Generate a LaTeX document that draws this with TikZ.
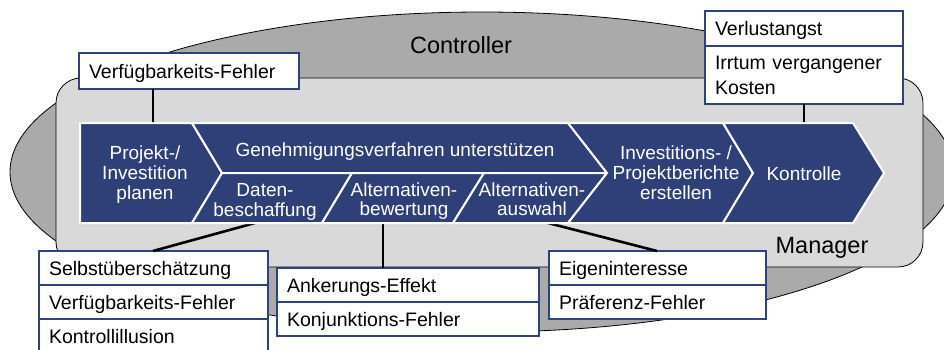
\documentclass[tikz,border=0pt]{standalone}
\usepackage{fontspec}
\setmainfont{Liberation Sans}
\usetikzlibrary{calc}
\definecolor{bandblue}{RGB}{46,64,119}
\definecolor{boxblue}{RGB}{47,66,122}
\definecolor{outergray}{RGB}{170,170,170}
\definecolor{innergray}{RGB}{217,217,217}
\begin{document}
\begin{tikzpicture}[x=1pt,y=-1pt,
  chev/.style={fill=bandblue, draw=white, line width=2pt, line join=miter},
  wlabel/.style={text=white, align=center, font=\fontsize{19}{19.7}\selectfont, inner sep=0pt, text depth=0pt},
  errbox/.style={draw=boxblue, line width=2pt, fill=white, anchor=north west, inner xsep=10pt, inner ysep=0pt, outer sep=0pt, align=left, font=\fontsize{19.5}{25}\selectfont, text height=14pt},
  errline/.style={errbox, text depth=0pt},
  conn/.style={line width=2.6pt, black},
  titletext/.style={font=\fontsize{23.5}{26}\selectfont, inner sep=0pt, anchor=base}
]
\clip (0,0) rectangle (944,349);
\fill[white] (0,0) rectangle (944,349);
% background shapes
\draw[fill=outergray, line width=0.8pt] (482,172) ellipse [x radius=472pt, y radius=160pt];
\draw[fill=innergray, line width=0.8pt, rounded corners=25pt] (56,78) rectangle (923,267);
\node[titletext] (ctrl) at (461,53) {Controller};
\node[titletext] (mgr) at (822,253) {Manager};
% connector end points on the band
\coordinate (c1) at (153,123);
\coordinate (c2) at (804,123);
\coordinate (c3) at (255,223);
\coordinate (c4) at (383,223);
\coordinate (c5) at (548,223);
% boxes
\node[errline, text width=200pt, minimum height=36pt] (vf1) at (79,53) {Verfügbarkeits-Fehler};
\node[errline, text width=178pt, minimum height=35pt] (vla) at (705,11) {Verlustangst};
\node[errbox, text depth=25pt, text width=178pt, minimum height=58pt] (irr) at (705,46) {Irrtum vergangener\\Kosten};
\node[errline, text width=209pt, minimum height=34pt] (ll1) at (39,251) {Selbstüberschätzung};
\node[errline, text width=209pt, minimum height=34pt] (ll2) at (39,285) {Verfügbarkeits-Fehler};
\node[errline, text width=209pt, minimum height=34pt] (ll3) at (39,319) {Kontrollillusion};
\node[errline, text width=242pt, minimum height=34pt] (ank) at (277,268) {Ankerungs-Effekt};
\node[errline, text width=242pt, minimum height=34pt] (kjf) at (277,302) {Konjunktions-Fehler};
\node[errline, text width=197pt, minimum height=34pt] (eig) at (549,251) {Eigeninteresse};
\node[errline, text width=197pt, minimum height=34pt] (prf) at (549,285) {Präferenz-Fehler};
% connectors
\draw[conn] (vf1.south -| c1) -- (c1);
\draw[conn] (irr.south -| c2) -- (c2);
\draw[conn] (c3) -- ([xshift=114pt]ll1.north west);
\draw[conn] (c4) -- (ank.north -| c4);
\draw[conn] (c5) -- ([xshift=108pt]eig.north west);
% process band
\draw[chev] (80,123) -- (192,123) -- (222,173) -- (192,223) -- (80,223) -- cycle;
\draw[chev] (192,123) -- (568,123) -- (607,173) -- (222,173) -- cycle;
\draw[chev] (222,173) -- (352,173) -- (322,223) -- (192,223) -- cycle;
\draw[chev] (352,173) -- (484,173) -- (453,223) -- (322,223) -- cycle;
\draw[chev] (484,173) -- (607,173) -- (568,223) -- (453,223) -- cycle;
\draw[chev] (568,123) -- (723,123) -- (753,173) -- (723,223) -- (568,223) -- (607,173) -- cycle;
\draw[chev] (723,123) -- (853,123) -- (884,173) -- (853,223) -- (723,223) -- (753,173) -- cycle;
% band labels
\node[wlabel] (proj) at (145,172.5) {Projekt-/\\Investition\\planen};
\node[wlabel] (gen) at (395,149.5) {Genehmigungsverfahren unterstützen};
\node[wlabel] (dat) at (265,200) {Daten-\\beschaffung};
\node[wlabel] (bew) at (404,199) {Alternativen-\\bewertung};
\node[wlabel] (aus) at (532,199) {Alternativen-\\auswahl};
\node[wlabel] (inv) at (676,172.5) {Investitions- /\\Projektberichte\\erstellen};
\node[wlabel] (kon) at (804,173.5) {Kontrolle};
\end{tikzpicture}
\end{document}
